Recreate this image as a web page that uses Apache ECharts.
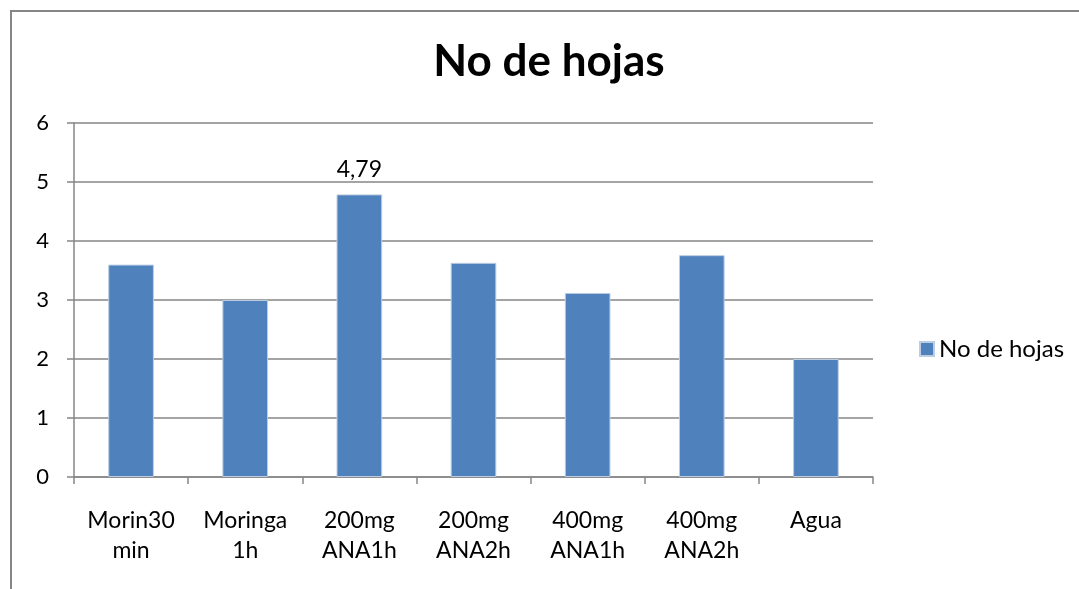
<!DOCTYPE html>
<html>
<head>
<meta charset="utf-8">
<script src="https://cdn.jsdelivr.net/npm/echarts@6/dist/echarts.min.js"></script>
<style>
  html, body { margin: 0; padding: 0; background: #fff; }
  #frame { position: absolute; left: 10px; top: 10px; width: 1100px; height: 620px;
           border: 2px solid #868686; box-sizing: border-box; }
  #chart { position: absolute; left: 0; top: 0; width: 1079px; height: 589px; }
</style>
</head>
<body>
<div id="frame"></div>
<div id="chart"></div>
<script>
// Number of leaves per treatment
const categories = ['Morin30\nmin', 'Moringa\n1h', '200mg\nANA1h', '200mg\nANA2h', '400mg\nANA1h', '400mg\nANA2h', 'Agua'];
const hojas = [3.6, 3.0, 4.79, 3.63, 3.12, 3.76, 2.0];
const labelledIndex = 2; // only this bar carries a value label
const seriesName = 'No de hojas';

const font = 'Lato, "Open Sans", sans-serif';
const chart = echarts.init(document.getElementById('chart'), null, { renderer: 'canvas' });

chart.setOption({
  animation: false,
  textStyle: { fontFamily: font },
  title: {
    text: 'No de hojas',
    left: 544, top: 35, textAlign: 'center',
    textStyle: { fontFamily: font, fontSize: 44, fontWeight: 'bold', color: '#000' }
  },
  legend: {
    data: [seriesName],
    left: 914, top: 332,
    itemWidth: 14, itemHeight: 14, itemGap: 6,
    icon: 'rect',
    textStyle: { fontFamily: font, fontSize: 24, color: '#000' }
  },
  grid: { left: 74, right: 206, top: 123, bottom: 112, containLabel: false },
  xAxis: {
    type: 'category',
    data: categories,
    axisLine: { lineStyle: { color: '#868686', width: 1.5 } },
    axisTick: { show: true, alignWithLabel: false, length: 7, lineStyle: { color: '#868686', width: 1.5 } },
    axisLabel: { fontFamily: font, fontSize: 23, color: '#000', lineHeight: 30, margin: 29, interval: 0 }
  },
  yAxis: {
    type: 'value', min: 0, max: 6, interval: 1,
    axisLine: { show: true, lineStyle: { color: '#868686', width: 1.5 } },
    axisTick: { show: true, length: 7, lineStyle: { color: '#868686', width: 1.5 } },
    splitLine: { lineStyle: { color: '#868686', width: 1.5 } },
    axisLabel: { fontFamily: font, fontSize: 22, color: '#000', margin: 25 }
  },
  series: [{
    name: seriesName,
    type: 'bar',
    barWidth: '40%',
    data: hojas.map((v, i) => ({
      value: v,
      label: {
        show: i === labelledIndex, position: 'top', distance: 13,
        fontFamily: font, fontSize: 23, color: '#000',
        formatter: p => String(p.value).replace('.', ',')
      }
    })),
    itemStyle: { color: '#4F81BD', borderColor: '#BCCDE3', borderWidth: 1 }
  }]
});
</script>
</body>
</html>
